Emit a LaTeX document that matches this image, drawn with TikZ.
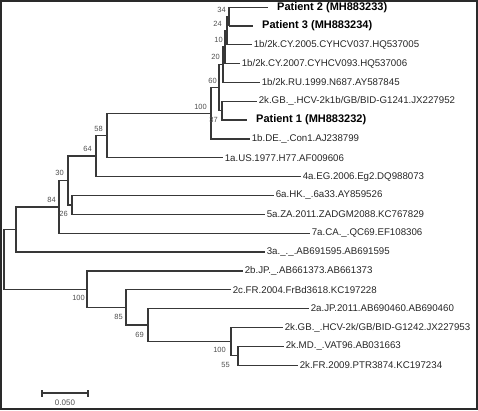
\documentclass[tikz,border=0pt]{standalone}
\usepackage{fontspec}
\setmainfont{Liberation Sans}
\definecolor{ln}{HTML}{383838}
\definecolor{txt}{HTML}{262626}
\definecolor{bsc}{HTML}{505050}
\definecolor{frm}{HTML}{2A2A2A}
\begin{document}
\begin{tikzpicture}[x=1pt,y=-1pt,
  br/.style={draw=ln, line width=1.25pt},
  pbr/.style={draw=ln, line width=1.7pt},
  leaf/.style={anchor=west, inner xsep=1.6pt, inner ysep=0pt, font=\fontsize{9.7}{10}\selectfont, text=txt},
  pat/.style={anchor=west, inner xsep=9pt, inner ysep=0pt, font=\fontsize{11}{12}\selectfont\bfseries, text=black},
  bs/.style={anchor=east, inner sep=0pt, font=\fontsize{7.5}{8}\selectfont, text=bsc}]
\useasboundingbox (0,0) rectangle (478,410);
\draw[draw=frm, line width=1.8pt] (1,1) rectangle (477,409);

% leaves
\node[pat]  (L0)  at (268,7.6)    {Patient 2 (MH883233)};
\node[pat]  (L1)  at (253,25.85)  {Patient 3 (MH883234)};
\node[leaf] (L2)  at (252,44.7)   {1b/2k.CY.2005.CYHCV037.HQ537005};
\node[leaf] (L3)  at (240,63.55)  {1b/2k.CY.2007.CYHCV093.HQ537006};
\node[leaf] (L4)  at (260,82.4)   {1b/2k.RU.1999.N687.AY587845};
\node[leaf] (L5)  at (257,101.25) {2k.GB.\_.HCV-2k1b/GB/BID-G1241.JX227952};
\node[pat]  (L6)  at (247,120.1)  {Patient 1 (MH883232)};
\node[leaf] (L7)  at (250,138.95) {1b.DE.\_.Con1.AJ238799};
\node[leaf] (L8)  at (223,157.8)  {1a.US.1977.H77.AF009606};
\node[leaf] (L9)  at (301,176.65) {4a.EG.2006.Eg2.DQ988073};
\node[leaf] (L10) at (274,195.5)  {6a.HK.\_.6a33.AY859526};
\node[leaf] (L11) at (265,214.35) {5a.ZA.2011.ZADGM2088.KC767829};
\node[leaf] (L12) at (310,233.2)  {7a.CA.\_.QC69.EF108306};
\node[leaf] (L13) at (265,252.05) {3a.\_.\_.AB691595.AB691595};
\node[leaf] (L14) at (243,270.9)  {2b.JP.\_.AB661373.AB661373};
\node[leaf] (L15) at (231,289.75) {2c.FR.2004.FrBd3618.KC197228};
\node[leaf] (L16) at (309,308.6)  {2a.JP.2011.AB690460.AB690460};
\node[leaf] (L17) at (283,327.45) {2k.GB.\_.HCV-2k/GB/BID-G1242.JX227953};
\node[leaf] (L18) at (284,346.3)  {2k.MD.\_.VAT96.AB031663};
\node[leaf] (L19) at (298,365.15) {2k.FR.2009.PTR3874.KC197234};

% internal nodes
\coordinate (P) at (229,16.7);
\coordinate (Q) at (227,30.6);
\coordinate (R) at (225,47.1);
\coordinate (S) at (223,64.7);
\coordinate (K) at (222,110.7);
\coordinate (I) at (219,87.7);
\coordinate (H) at (211,113.3);
\coordinate (G) at (107,135.6);
\coordinate (E) at (96,156.1);
\coordinate (F) at (72,204.9);
\coordinate (D) at (68,180.5);
\coordinate (C) at (59,206.9);
\coordinate (A) at (16,229.5);
\coordinate (W) at (238,355.7);
\coordinate (V) at (231,341.6);
\coordinate (U) at (148,325.1);
\coordinate (T) at (126,307.4);
\coordinate (B) at (87,289.2);
\coordinate (Root) at (4,259.4);

\foreach \p/\c in {P/L0.west, P/L1.west, Q/P, Q/L2.west, R/Q, R/L3.west,
  S/R, S/L4.west, K/L5.west, K/L6.west, I/S, I/K, H/I, H/L7.west,
  G/H, G/L8.west, E/G, E/L9.west, F/L10.west, F/L11.west, D/E, D/F,
  C/D, C/L12.west, A/C, A/L13.west, Root/A, Root/B,
  B/L14.west, B/T, T/L15.west, T/U, U/L16.west, U/V,
  V/L17.west, V/W, W/L18.west, W/L19.west}
  \draw[br] (\p) |- (\c);
\draw[pbr] (P |- L0.west) -- (L0.west);
\draw[pbr] (P |- L1.west) -- (L1.west);
\draw[pbr] (K |- L6.west) -- (L6.west);

% bootstrap values
\node[bs] (b1)  at (226,10)  {34};
\node[bs] (b2)  at (222,24)  {24};
\node[bs] (b3)  at (223,40)  {10};
\node[bs] (b4)  at (220,57)  {20};
\node[bs] (b5)  at (217,81)  {60};
\node[bs] (b6)  at (207,107) {100};
\node[bs] (b7)  at (218,120) {37};
\node[bs] (b8)  at (103,129) {58};
\node[bs] (b9)  at (92,149)  {64};
\node[bs] (b10) at (64,173)  {30};
\node[bs] (b11) at (56,200)  {84};
\node[bs] (b12) at (68,214)  {26};
\node[bs] (b13) at (85,298)  {100};
\node[bs] (b14) at (123,317) {85};
\node[bs] (b15) at (144,335) {69};
\node[bs] (b16) at (226,350) {100};
\node[bs] (b17) at (230,365) {55};

% scale bar
\coordinate (sb1) at (42,393);
\coordinate (sb2) at (88,393);
\draw[br] (sb1) -- (sb2);
\draw[br] ([yshift=-3.5pt]sb1) -- ([yshift=3.5pt]sb1);
\draw[br] ([yshift=-3.5pt]sb2) -- ([yshift=3.5pt]sb2);
\node[inner sep=0pt, font=\fontsize{8}{9}\selectfont, text=bsc] (sbl) at (65,402.5) {0.050};
\end{tikzpicture}
\end{document}
